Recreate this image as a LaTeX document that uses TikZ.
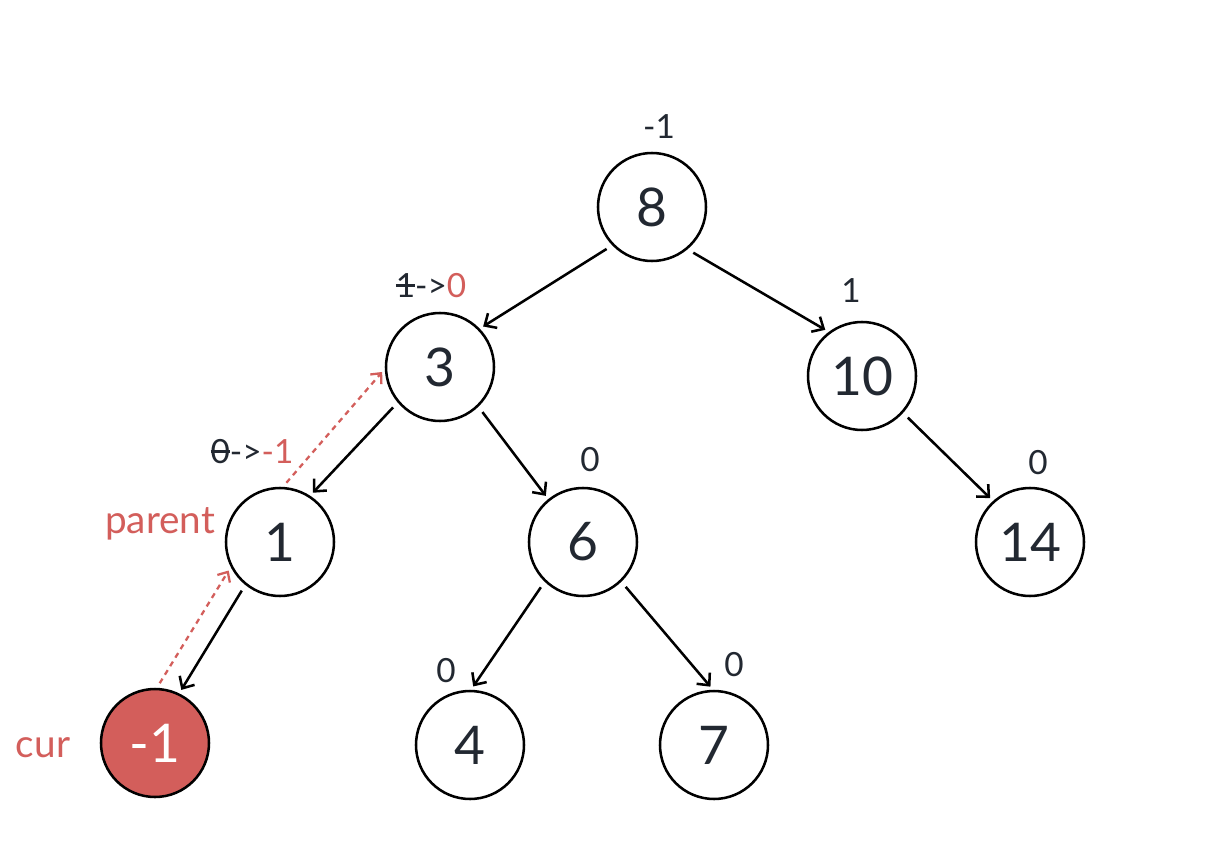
\documentclass[tikz,border=0pt]{standalone}
\usepackage{fontspec}
\setmainfont{Lato}
\usetikzlibrary{arrows.meta}
\definecolor{rd}{HTML}{D35E5B}
\definecolor{tx}{HTML}{222831}
\newcommand\strk[1]{\setbox0\hbox{#1}\rlap{#1}\rule[0.34em]{\wd0}{0.07em}}
\begin{document}
\begin{tikzpicture}[x=0.75pt,y=-0.75pt,
  tn/.style={circle,draw=black,line width=1.9pt,minimum size=81pt,inner sep=0pt,font=\fontsize{40}{40}\selectfont,text=tx,fill=white},
  cn/.style={tn,fill=rd,text=white},
  lbl/.style={font=\fontsize{25}{25}\selectfont,text=tx,inner sep=0pt},
  rl/.style={font=\fontsize{29}{29}\selectfont,text=rd,inner sep=0pt,anchor=base},
  edge/.style={line width=1.9pt,-{Straight Barb[length=7pt,width=13pt]},shorten <=5pt,shorten >=3pt},
  ptr/.style={rd,line width=1.7pt,dash pattern=on 4pt off 3.5pt,-{Straight Barb[length=6pt,width=11pt]},shorten <=4pt,shorten >=3pt}]
\useasboundingbox[fill=white] (0,0) rectangle (1229,860);
% tree nodes
\node[tn] (n8) at (652,207) {8};
\node[tn] (n3) at (440,367) {3};
\node[tn] (n10) at (862,376) {10};
\node[tn] (n1) at (280,542) {1};
\node[tn] (n6) at (583,542) {6};
\node[tn] (n14) at (1030,542) {14};
\node[cn] (cur) at (155,743) {-1};
\node[tn] (n4) at (470,745) {4};
\node[tn] (n7) at (714,745) {7};
% balance labels
\node[lbl] (b8) at (659,127) {-1};
\node[lbl] (b3) at (431,286) {\strk{1}->\textcolor{rd}{0}};
\node[lbl] (b10) at (851,291) {1};
\node[lbl] (b1) at (252,452) {\strk{0}->\textcolor{rd}{-1}};
\node[lbl] (b6) at (590,460) {0};
\node[lbl] (b14) at (1038,463) {0};
\node[lbl] (b4) at (446,671) {0};
\node[lbl] (b7) at (734,665) {0};
% pointer labels
\node[rl] (lp) at (160,533) {parent};
\node[rl] (lc) at (43,757) {cur};
% edges
\draw[edge] (n8.224) -- (n3.44);
\draw[edge] (n8.310) -- (n10.127);
\draw[edge] (n3.220) -- (n1.57);
\draw[edge] (n3.314) -- (n6.129);
\draw[edge] (n10.318) -- (n14.132);
\draw[edge] (n1.231) -- (cur.64);
\draw[edge] (n6.226) -- (n4.89);
\draw[edge] (n6.314) -- (n7.91);
% parent pointers
\draw[ptr] (n1.87) -- (n3.182);
\draw[ptr] (cur.88) -- (n1.207);
\end{tikzpicture}
\end{document}
